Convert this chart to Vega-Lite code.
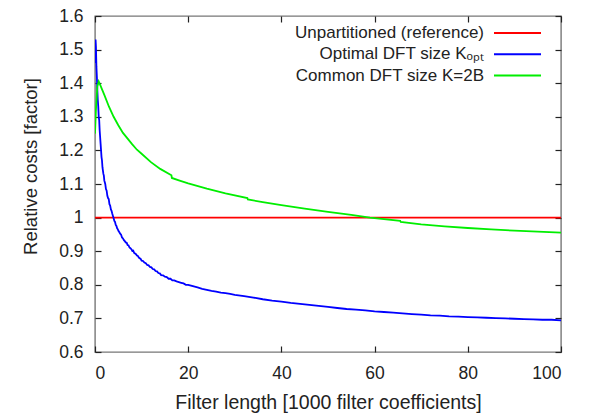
{
  "$schema": "https://vega.github.io/schema/vega-lite/v6.json",
  "autosize": {"type": "none"},
  "padding": {"left": 95, "top": 16, "right": 29, "bottom": 61},
  "width": 466,
  "height": 336,
  "background": "white",
  "config": {
    "font": "Liberation Sans",
    "view": {"stroke": "#777777", "strokeWidth": 1.4},
    "axis": {"domain": false, "grid": false, "ticks": true, "tickOpacity": 1, "offset": -6, "tickColor": "#222222", "tickSize": 6, "tickWidth": 1.2, "zindex": 1, "labelFont": "Liberation Sans", "labelFontSize": 17.5, "labelColor": "#222222", "titleFont": "Liberation Sans", "titleFontWeight": "normal", "titleColor": "#222222", "labelPadding": 12}
  },
  "datasets": {
    "curves": [
      {"x": 0, "v": 1.0, "s": "Unpartitioned (reference)"},
      {"x": 100, "v": 1.0, "s": "Unpartitioned (reference)"},
      {"x": 0.05, "v": 1.46, "s": "Optimal DFT size Kₒₚₜ"},
      {"x": 0.12, "v": 1.53, "s": "Optimal DFT size Kₒₚₜ"},
      {"x": 0.2, "v": 1.51, "s": "Optimal DFT size Kₒₚₜ"},
      {"x": 0.3, "v": 1.45, "s": "Optimal DFT size Kₒₚₜ"},
      {"x": 0.4, "v": 1.42, "s": "Optimal DFT size Kₒₚₜ"},
      {"x": 0.5, "v": 1.38, "s": "Optimal DFT size Kₒₚₜ"},
      {"x": 0.6, "v": 1.35, "s": "Optimal DFT size Kₒₚₜ"},
      {"x": 0.7, "v": 1.33, "s": "Optimal DFT size Kₒₚₜ"},
      {"x": 0.8, "v": 1.30, "s": "Optimal DFT size Kₒₚₜ"},
      {"x": 0.9, "v": 1.29, "s": "Optimal DFT size Kₒₚₜ"},
      {"x": 1.0, "v": 1.26, "s": "Optimal DFT size Kₒₚₜ"},
      {"x": 1.1, "v": 1.24, "s": "Optimal DFT size Kₒₚₜ"},
      {"x": 1.2, "v": 1.22, "s": "Optimal DFT size Kₒₚₜ"},
      {"x": 1.3, "v": 1.20, "s": "Optimal DFT size Kₒₚₜ"},
      {"x": 1.4, "v": 1.18, "s": "Optimal DFT size Kₒₚₜ"},
      {"x": 1.5, "v": 1.17, "s": "Optimal DFT size Kₒₚₜ"},
      {"x": 1.6, "v": 1.15, "s": "Optimal DFT size Kₒₚₜ"},
      {"x": 1.7, "v": 1.14, "s": "Optimal DFT size Kₒₚₜ"},
      {"x": 1.8, "v": 1.13, "s": "Optimal DFT size Kₒₚₜ"},
      {"x": 1.9, "v": 1.125, "s": "Optimal DFT size Kₒₚₜ"},
      {"x": 2.0, "v": 1.11, "s": "Optimal DFT size Kₒₚₜ"},
      {"x": 2.1, "v": 1.105, "s": "Optimal DFT size Kₒₚₜ"},
      {"x": 2.2, "v": 1.10, "s": "Optimal DFT size Kₒₚₜ"},
      {"x": 2.35, "v": 1.085, "s": "Optimal DFT size Kₒₚₜ"},
      {"x": 2.5, "v": 1.08, "s": "Optimal DFT size Kₒₚₜ"},
      {"x": 2.65, "v": 1.065, "s": "Optimal DFT size Kₒₚₜ"},
      {"x": 2.8, "v": 1.058, "s": "Optimal DFT size Kₒₚₜ"},
      {"x": 2.95, "v": 1.055, "s": "Optimal DFT size Kₒₚₜ"},
      {"x": 3.1, "v": 1.04, "s": "Optimal DFT size Kₒₚₜ"},
      {"x": 3.25, "v": 1.036, "s": "Optimal DFT size Kₒₚₜ"},
      {"x": 3.4, "v": 1.025, "s": "Optimal DFT size Kₒₚₜ"},
      {"x": 3.55, "v": 1.02, "s": "Optimal DFT size Kₒₚₜ"},
      {"x": 3.7, "v": 1.012, "s": "Optimal DFT size Kₒₚₜ"},
      {"x": 3.85, "v": 1.005, "s": "Optimal DFT size Kₒₚₜ"},
      {"x": 4.0, "v": 0.998, "s": "Optimal DFT size Kₒₚₜ"},
      {"x": 4.15, "v": 0.99, "s": "Optimal DFT size Kₒₚₜ"},
      {"x": 4.3, "v": 0.987, "s": "Optimal DFT size Kₒₚₜ"},
      {"x": 4.45, "v": 0.978, "s": "Optimal DFT size Kₒₚₜ"},
      {"x": 4.6, "v": 0.975, "s": "Optimal DFT size Kₒₚₜ"},
      {"x": 4.75, "v": 0.968, "s": "Optimal DFT size Kₒₚₜ"},
      {"x": 4.9, "v": 0.965, "s": "Optimal DFT size Kₒₚₜ"},
      {"x": 5.05, "v": 0.96, "s": "Optimal DFT size Kₒₚₜ"},
      {"x": 5.2, "v": 0.957, "s": "Optimal DFT size Kₒₚₜ"},
      {"x": 5.4, "v": 0.952, "s": "Optimal DFT size Kₒₚₜ"},
      {"x": 5.6, "v": 0.949, "s": "Optimal DFT size Kₒₚₜ"},
      {"x": 5.8, "v": 0.941, "s": "Optimal DFT size Kₒₚₜ"},
      {"x": 6.0, "v": 0.938, "s": "Optimal DFT size Kₒₚₜ"},
      {"x": 6.2, "v": 0.933, "s": "Optimal DFT size Kₒₚₜ"},
      {"x": 6.4, "v": 0.930, "s": "Optimal DFT size Kₒₚₜ"},
      {"x": 6.6, "v": 0.926, "s": "Optimal DFT size Kₒₚₜ"},
      {"x": 6.8, "v": 0.925, "s": "Optimal DFT size Kₒₚₜ"},
      {"x": 7.0, "v": 0.918, "s": "Optimal DFT size Kₒₚₜ"},
      {"x": 7.2, "v": 0.917, "s": "Optimal DFT size Kₒₚₜ"},
      {"x": 7.4, "v": 0.911, "s": "Optimal DFT size Kₒₚₜ"},
      {"x": 7.6, "v": 0.909, "s": "Optimal DFT size Kₒₚₜ"},
      {"x": 7.8, "v": 0.906, "s": "Optimal DFT size Kₒₚₜ"},
      {"x": 8.0, "v": 0.901, "s": "Optimal DFT size Kₒₚₜ"},
      {"x": 8.2, "v": 0.902, "s": "Optimal DFT size Kₒₚₜ"},
      {"x": 8.4, "v": 0.895, "s": "Optimal DFT size Kₒₚₜ"},
      {"x": 8.6, "v": 0.893, "s": "Optimal DFT size Kₒₚₜ"},
      {"x": 8.8, "v": 0.891, "s": "Optimal DFT size Kₒₚₜ"},
      {"x": 9.0, "v": 0.887, "s": "Optimal DFT size Kₒₚₜ"},
      {"x": 9.2, "v": 0.886, "s": "Optimal DFT size Kₒₚₜ"},
      {"x": 9.4, "v": 0.881, "s": "Optimal DFT size Kₒₚₜ"},
      {"x": 9.6, "v": 0.879, "s": "Optimal DFT size Kₒₚₜ"},
      {"x": 9.8, "v": 0.877, "s": "Optimal DFT size Kₒₚₜ"},
      {"x": 10.0, "v": 0.872, "s": "Optimal DFT size Kₒₚₜ"},
      {"x": 10.3, "v": 0.871, "s": "Optimal DFT size Kₒₚₜ"},
      {"x": 10.6, "v": 0.866, "s": "Optimal DFT size Kₒₚₜ"},
      {"x": 10.9, "v": 0.864, "s": "Optimal DFT size Kₒₚₜ"},
      {"x": 11.2, "v": 0.859, "s": "Optimal DFT size Kₒₚₜ"},
      {"x": 11.5, "v": 0.858, "s": "Optimal DFT size Kₒₚₜ"},
      {"x": 11.8, "v": 0.853, "s": "Optimal DFT size Kₒₚₜ"},
      {"x": 12.1, "v": 0.852, "s": "Optimal DFT size Kₒₚₜ"},
      {"x": 12.4, "v": 0.847, "s": "Optimal DFT size Kₒₚₜ"},
      {"x": 12.7, "v": 0.846, "s": "Optimal DFT size Kₒₚₜ"},
      {"x": 13.0, "v": 0.841, "s": "Optimal DFT size Kₒₚₜ"},
      {"x": 13.3, "v": 0.840, "s": "Optimal DFT size Kₒₚₜ"},
      {"x": 13.6, "v": 0.835, "s": "Optimal DFT size Kₒₚₜ"},
      {"x": 13.9, "v": 0.834, "s": "Optimal DFT size Kₒₚₜ"},
      {"x": 14.2, "v": 0.829, "s": "Optimal DFT size Kₒₚₜ"},
      {"x": 14.6, "v": 0.828, "s": "Optimal DFT size Kₒₚₜ"},
      {"x": 15.0, "v": 0.824, "s": "Optimal DFT size Kₒₚₜ"},
      {"x": 15.4, "v": 0.823, "s": "Optimal DFT size Kₒₚₜ"},
      {"x": 15.8, "v": 0.818, "s": "Optimal DFT size Kₒₚₜ"},
      {"x": 16.2, "v": 0.818, "s": "Optimal DFT size Kₒₚₜ"},
      {"x": 16.6, "v": 0.813, "s": "Optimal DFT size Kₒₚₜ"},
      {"x": 17.0, "v": 0.813, "s": "Optimal DFT size Kₒₚₜ"},
      {"x": 17.5, "v": 0.810, "s": "Optimal DFT size Kₒₚₜ"},
      {"x": 18.0, "v": 0.808, "s": "Optimal DFT size Kₒₚₜ"},
      {"x": 18.5, "v": 0.806, "s": "Optimal DFT size Kₒₚₜ"},
      {"x": 19.0, "v": 0.804, "s": "Optimal DFT size Kₒₚₜ"},
      {"x": 19.5, "v": 0.800, "s": "Optimal DFT size Kₒₚₜ"},
      {"x": 20.0, "v": 0.800, "s": "Optimal DFT size Kₒₚₜ"},
      {"x": 21, "v": 0.796, "s": "Optimal DFT size Kₒₚₜ"},
      {"x": 22, "v": 0.792, "s": "Optimal DFT size Kₒₚₜ"},
      {"x": 23, "v": 0.788, "s": "Optimal DFT size Kₒₚₜ"},
      {"x": 24, "v": 0.785, "s": "Optimal DFT size Kₒₚₜ"},
      {"x": 25, "v": 0.782, "s": "Optimal DFT size Kₒₚₜ"},
      {"x": 26, "v": 0.780, "s": "Optimal DFT size Kₒₚₜ"},
      {"x": 27, "v": 0.777, "s": "Optimal DFT size Kₒₚₜ"},
      {"x": 28, "v": 0.775, "s": "Optimal DFT size Kₒₚₜ"},
      {"x": 29, "v": 0.773, "s": "Optimal DFT size Kₒₚₜ"},
      {"x": 30, "v": 0.770, "s": "Optimal DFT size Kₒₚₜ"},
      {"x": 32, "v": 0.766, "s": "Optimal DFT size Kₒₚₜ"},
      {"x": 34, "v": 0.762, "s": "Optimal DFT size Kₒₚₜ"},
      {"x": 36, "v": 0.757, "s": "Optimal DFT size Kₒₚₜ"},
      {"x": 38, "v": 0.753, "s": "Optimal DFT size Kₒₚₜ"},
      {"x": 40, "v": 0.750, "s": "Optimal DFT size Kₒₚₜ"},
      {"x": 42, "v": 0.746, "s": "Optimal DFT size Kₒₚₜ"},
      {"x": 44, "v": 0.743, "s": "Optimal DFT size Kₒₚₜ"},
      {"x": 46, "v": 0.740, "s": "Optimal DFT size Kₒₚₜ"},
      {"x": 48, "v": 0.737, "s": "Optimal DFT size Kₒₚₜ"},
      {"x": 50, "v": 0.734, "s": "Optimal DFT size Kₒₚₜ"},
      {"x": 52, "v": 0.731, "s": "Optimal DFT size Kₒₚₜ"},
      {"x": 54, "v": 0.728, "s": "Optimal DFT size Kₒₚₜ"},
      {"x": 56, "v": 0.726, "s": "Optimal DFT size Kₒₚₜ"},
      {"x": 58, "v": 0.724, "s": "Optimal DFT size Kₒₚₜ"},
      {"x": 60, "v": 0.721, "s": "Optimal DFT size Kₒₚₜ"},
      {"x": 62, "v": 0.719, "s": "Optimal DFT size Kₒₚₜ"},
      {"x": 64, "v": 0.717, "s": "Optimal DFT size Kₒₚₜ"},
      {"x": 66, "v": 0.715, "s": "Optimal DFT size Kₒₚₜ"},
      {"x": 68, "v": 0.713, "s": "Optimal DFT size Kₒₚₜ"},
      {"x": 70, "v": 0.711, "s": "Optimal DFT size Kₒₚₜ"},
      {"x": 72, "v": 0.709, "s": "Optimal DFT size Kₒₚₜ"},
      {"x": 74, "v": 0.708, "s": "Optimal DFT size Kₒₚₜ"},
      {"x": 76, "v": 0.706, "s": "Optimal DFT size Kₒₚₜ"},
      {"x": 78, "v": 0.705, "s": "Optimal DFT size Kₒₚₜ"},
      {"x": 80, "v": 0.704, "s": "Optimal DFT size Kₒₚₜ"},
      {"x": 82, "v": 0.703, "s": "Optimal DFT size Kₒₚₜ"},
      {"x": 84, "v": 0.702, "s": "Optimal DFT size Kₒₚₜ"},
      {"x": 86, "v": 0.701, "s": "Optimal DFT size Kₒₚₜ"},
      {"x": 88, "v": 0.700, "s": "Optimal DFT size Kₒₚₜ"},
      {"x": 90, "v": 0.699, "s": "Optimal DFT size Kₒₚₜ"},
      {"x": 92, "v": 0.698, "s": "Optimal DFT size Kₒₚₜ"},
      {"x": 94, "v": 0.697, "s": "Optimal DFT size Kₒₚₜ"},
      {"x": 96, "v": 0.696, "s": "Optimal DFT size Kₒₚₜ"},
      {"x": 98, "v": 0.696, "s": "Optimal DFT size Kₒₚₜ"},
      {"x": 100, "v": 0.694, "s": "Optimal DFT size Kₒₚₜ"},
      {"x": 0.0, "v": 1.25, "s": "Common DFT size K=2B"},
      {"x": 0.2, "v": 1.32, "s": "Common DFT size K=2B"},
      {"x": 0.5, "v": 1.39, "s": "Common DFT size K=2B"},
      {"x": 0.8, "v": 1.405, "s": "Common DFT size K=2B"},
      {"x": 1.2, "v": 1.392, "s": "Common DFT size K=2B"},
      {"x": 2, "v": 1.365, "s": "Common DFT size K=2B"},
      {"x": 3, "v": 1.33, "s": "Common DFT size K=2B"},
      {"x": 4, "v": 1.30, "s": "Common DFT size K=2B"},
      {"x": 5, "v": 1.275, "s": "Common DFT size K=2B"},
      {"x": 6, "v": 1.252, "s": "Common DFT size K=2B"},
      {"x": 7, "v": 1.235, "s": "Common DFT size K=2B"},
      {"x": 8, "v": 1.218, "s": "Common DFT size K=2B"},
      {"x": 9, "v": 1.202, "s": "Common DFT size K=2B"},
      {"x": 10, "v": 1.19, "s": "Common DFT size K=2B"},
      {"x": 12, "v": 1.165, "s": "Common DFT size K=2B"},
      {"x": 14, "v": 1.145, "s": "Common DFT size K=2B"},
      {"x": 16.4, "v": 1.126, "s": "Common DFT size K=2B"},
      {"x": 16.5, "v": 1.118, "s": "Common DFT size K=2B"},
      {"x": 18, "v": 1.111, "s": "Common DFT size K=2B"},
      {"x": 20, "v": 1.102, "s": "Common DFT size K=2B"},
      {"x": 24, "v": 1.086, "s": "Common DFT size K=2B"},
      {"x": 28, "v": 1.072, "s": "Common DFT size K=2B"},
      {"x": 32.7, "v": 1.058, "s": "Common DFT size K=2B"},
      {"x": 32.8, "v": 1.054, "s": "Common DFT size K=2B"},
      {"x": 36, "v": 1.046, "s": "Common DFT size K=2B"},
      {"x": 40, "v": 1.037, "s": "Common DFT size K=2B"},
      {"x": 45, "v": 1.027, "s": "Common DFT size K=2B"},
      {"x": 50, "v": 1.017, "s": "Common DFT size K=2B"},
      {"x": 55, "v": 1.008, "s": "Common DFT size K=2B"},
      {"x": 59, "v": 1.0, "s": "Common DFT size K=2B"},
      {"x": 65.5, "v": 0.990, "s": "Common DFT size K=2B"},
      {"x": 65.6, "v": 0.987, "s": "Common DFT size K=2B"},
      {"x": 70, "v": 0.980, "s": "Common DFT size K=2B"},
      {"x": 75, "v": 0.974, "s": "Common DFT size K=2B"},
      {"x": 80, "v": 0.969, "s": "Common DFT size K=2B"},
      {"x": 85, "v": 0.965, "s": "Common DFT size K=2B"},
      {"x": 90, "v": 0.961, "s": "Common DFT size K=2B"},
      {"x": 95, "v": 0.958, "s": "Common DFT size K=2B"},
      {"x": 100, "v": 0.955, "s": "Common DFT size K=2B"}
    ]
  },
  "data": {"name": "curves"},
  "layer": [
    {
      "mark": {"type": "line", "strokeWidth": 1.8, "clip": true},
      "encoding": {
        "x": {"field": "x", "type": "quantitative", "scale": {"domain": [0, 100], "nice": false, "zero": false}, "axis": {"orient": "bottom", "ticks": true, "values": [0, 20, 40, 60, 80, 100], "title": "Filter length [1000 filter coefficients]", "titleFontSize": 19.5, "titleBaseline": "alphabetic", "titleY": 62}},
        "y": {"field": "v", "type": "quantitative", "scale": {"domain": [0.6, 1.6], "nice": false, "zero": false}, "axis": {"orient": "left", "ticks": true, "values": [0.6, 0.7, 0.8, 0.9, 1.0, 1.1, 1.2, 1.3, 1.4, 1.5, 1.6], "format": "~g", "title": "Relative costs [factor]", "titleFontSize": 18.5, "titleBaseline": "alphabetic", "titleX": -65, "titleY": 150, "titleAlign": "center"}},
        "color": {"field": "s", "type": "nominal", "sort": null,
          "scale": {"domain": ["Unpartitioned (reference)", "Optimal DFT size Kₒₚₜ", "Common DFT size K=2B"], "range": ["#ff0000", "#0000ff", "#00ee00"]},
          "legend": {"title": null, "orient": "none", "legendX": 94, "legendY": 7, "padding": 0, "symbolType": "stroke", "symbolStrokeWidth": 2, "symbolSize": 2209, "rowPadding": 3.3, "labelFont": "Liberation Sans", "labelFontSize": 17, "labelColor": "#222222", "labelLimit": 400,
            "encode": {"labels": {"update": {"x": {"value": 295}, "y": {"value": 10}, "align": {"value": "right"}}}, "symbols": {"update": {"x": {"value": 328.5}, "y": {"value": 10}}}}}
        }
      }
    },
    {
      "mark": {"type": "line", "opacity": 0},
      "encoding": {
        "x": {"field": "x", "type": "quantitative", "axis": {"orient": "top", "ticks": true, "values": [0, 20, 40, 60, 80, 100], "labels": false, "title": null}},
        "y": {"field": "v", "type": "quantitative", "axis": {"orient": "right", "ticks": true, "values": [0.6, 0.7, 0.8, 0.9, 1.0, 1.1, 1.2, 1.3, 1.4, 1.5, 1.6], "labels": false, "title": null}},
        "detail": {"field": "s", "type": "nominal"}
      }
    }
  ],
  "resolve": {"axis": {"x": "independent", "y": "independent"}}
}
